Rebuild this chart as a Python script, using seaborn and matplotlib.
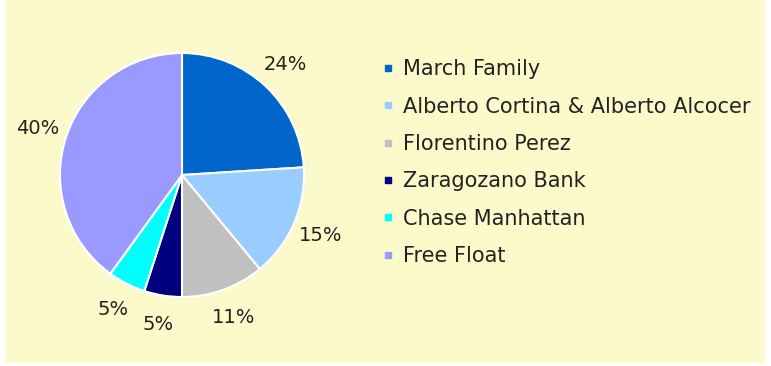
import matplotlib
matplotlib.use("Agg")
import matplotlib.pyplot as plt
import seaborn as sns
from matplotlib.lines import Line2D

sns.set_theme(style="white")
plt.rcParams['font.family'] = ['DejaVu Sans']

categories = ["March Family", "Alberto Cortina & Alberto Alcocer", "Florentino Perez",
              "Zaragozano Bank", "Chase Manhattan", "Free Float"]
values = [24, 15, 11, 5, 5, 40]
colors = ["#0066CC", "#99CCFF", "#C0C0C0", "#000080", "#00FFFF", "#9999FF"]
labels = [f"{v}%" for v in values]

W, H = 771, 366
fig = plt.figure(figsize=(W / 100, H / 100), dpi=100, facecolor="white")
bg = fig.add_axes([6 / W, 3 / H, (765 - 6) / W, (366 - 3) / H], zorder=-5)
bg.set_facecolor("#FCF9CB")
bg.set_xticks([])
bg.set_yticks([])
for s in bg.spines.values():
    s.set_visible(False)

cx, cy, r = 182, 366 - 175, 122
ax = fig.add_axes([(cx - r) / W, (cy - r) / H, 2 * r / W, 2 * r / H], zorder=1)
ax.set_facecolor("none")
wedges, texts = ax.pie(values, colors=colors, labels=labels, startangle=90,
                       counterclock=False, labeldistance=1.24, radius=1,
                       wedgeprops=dict(edgecolor="white", linewidth=1.5),
                       textprops=dict(fontsize=14, color="#222222"))
for t in texts:
    t.set_horizontalalignment("center")
    t.set_verticalalignment("center")
ax.set_xlim(-1, 1)
ax.set_ylim(-1, 1)
ax.set_aspect("equal")
ax.axis("off")

handles = [Line2D([], [], marker="s", linestyle="none", markersize=5,
                  markerfacecolor=c, markeredgecolor=c) for c in colors]
leg = fig.legend(handles, categories, loc="upper left",
                 bbox_to_anchor=(374 / W, 1 - 51 / H), frameon=False,
                 fontsize=15, labelspacing=0.83, handlelength=0.5,
                 handletextpad=0.5, borderaxespad=0)
for t in leg.get_texts():
    t.set_color("#222222")

fig.savefig("out.png", dpi=100, facecolor="white")
